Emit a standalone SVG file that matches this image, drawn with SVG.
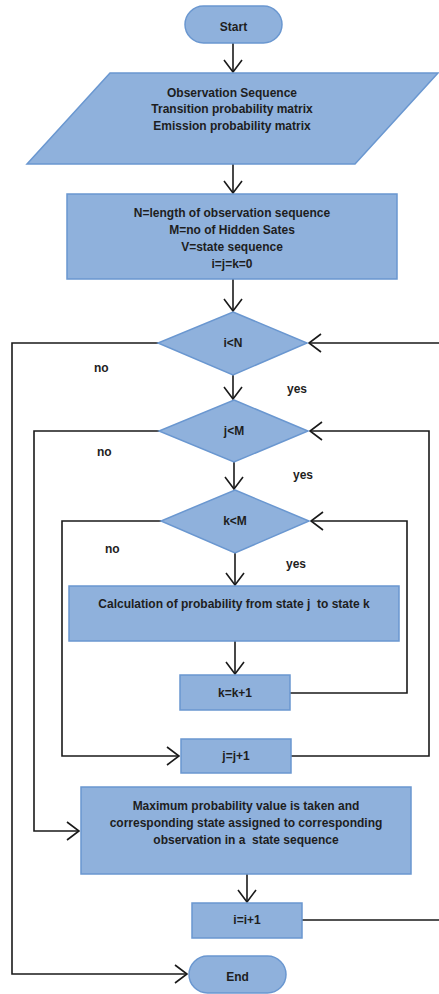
<svg xmlns="http://www.w3.org/2000/svg" width="439" height="994" viewBox="0 0 439 994">
  <defs>
    <style>
      .shape { fill: #8FB1DC; stroke: #6A97D0; stroke-width: 1.5; }
      .lbl { font-family: "Liberation Sans", Arial, sans-serif; font-weight: bold; font-size: 12px; fill: #1e1e1e; text-anchor: middle; dominant-baseline: central; }
      .side { font-family: "Liberation Sans", Arial, sans-serif; font-weight: bold; font-size: 12px; fill: #1e1e1e; dominant-baseline: central; }
      .wire { fill: none; stroke: #1a1a1a; stroke-width: 1.6; }
    </style>
    <marker id="arr" viewBox="0 0 14 20" refX="13" refY="10" markerWidth="14" markerHeight="20" markerUnits="userSpaceOnUse" orient="auto">
      <path d="M1,1 L13,10 L1,19" fill="none" stroke="#1a1a1a" stroke-width="1.6"/>
    </marker>
  </defs>

  <!-- connectors -->
  <g id="connectors" class="wire">
    <path d="M233,43 V72" marker-end="url(#arr)"/>
    <path d="M233,164 V193" marker-end="url(#arr)"/>
    <path d="M233,279 V311" marker-end="url(#arr)"/>
    <path d="M233,375 V399" marker-end="url(#arr)"/>
    <path d="M234,462 V489" marker-end="url(#arr)"/>
    <path d="M235,553 V585" marker-end="url(#arr)"/>
    <path d="M235,641 V674" marker-end="url(#arr)"/>
    <path d="M247,874 V902" marker-end="url(#arr)"/>
    <!-- i<N no: to End -->
    <path d="M158,343 H12 V974 H187" marker-end="url(#arr)"/>
    <!-- j<M no: to Max box -->
    <path d="M159,431 H34 V831 H79" marker-end="url(#arr)"/>
    <!-- k<M no: to j=j+1 -->
    <path d="M161,521 H62 V756 H179" marker-end="url(#arr)"/>
    <!-- k=k+1 back to k<M -->
    <path d="M290,693 H407 V521 H311" marker-end="url(#arr)"/>
    <!-- j=j+1 back to j<M -->
    <path d="M291,756 H429 V431 H310" marker-end="url(#arr)"/>
    <!-- i=i+1 back to i<N -->
    <path d="M302,920 H441 V343 H309" marker-end="url(#arr)"/>
  </g>

  <g id="start">
    <rect class="shape" x="185" y="6" width="97" height="37" rx="18.5"/>
    <text class="lbl" x="233.5" y="27">Start</text>
  </g>

  <g id="inputs">
    <polygon class="shape" points="110,73 438,73 355,164 27,164"/>
    <text class="lbl" x="232" y="93">Observation Sequence</text>
    <text class="lbl" x="232" y="109">Transition probability matrix</text>
    <text class="lbl" x="232" y="126">Emission probability matrix</text>
  </g>

  <g id="init">
    <rect class="shape" x="67" y="194" width="330" height="85"/>
    <text class="lbl" x="232" y="213">N=length of observation sequence</text>
    <text class="lbl" x="232" y="230">M=no of Hidden Sates</text>
    <text class="lbl" x="232" y="247">V=state sequence</text>
    <text class="lbl" x="232" y="264">i=j=k=0</text>
  </g>

  <g id="cond-i">
    <polygon class="shape" points="233,312 307,343 233,375 158,343"/>
    <text class="lbl" x="233" y="343">i&lt;N</text>
  </g>
  <text class="side" x="94" y="368">no</text>
  <text class="side" x="287" y="389">yes</text>

  <g id="cond-j">
    <polygon class="shape" points="234,400 308,431 234,462 159,431"/>
    <text class="lbl" x="234" y="431">j&lt;M</text>
  </g>
  <text class="side" x="97" y="452">no</text>
  <text class="side" x="293" y="475">yes</text>

  <g id="cond-k">
    <polygon class="shape" points="235,490 309,521 235,553 161,521"/>
    <text class="lbl" x="235" y="521">k&lt;M</text>
  </g>
  <text class="side" x="105" y="549">no</text>
  <text class="side" x="286" y="564">yes</text>

  <g id="calc">
    <rect class="shape" x="69" y="586" width="330" height="55"/>
    <text class="lbl" x="234" y="604" xml:space="preserve">Calculation of probability from state j  to state k</text>
  </g>

  <g id="inc-k">
    <rect class="shape" x="180" y="675" width="110" height="35"/>
    <text class="lbl" x="235" y="693">k=k+1</text>
  </g>

  <g id="inc-j">
    <rect class="shape" x="181" y="739" width="110" height="34"/>
    <text class="lbl" x="236" y="756">j=j+1</text>
  </g>

  <g id="maxprob">
    <rect class="shape" x="81" y="787" width="330" height="87"/>
    <text class="lbl" x="246" y="806">Maximum probability value is taken and</text>
    <text class="lbl" x="246" y="823">corresponding state assigned to corresponding</text>
    <text class="lbl" x="246" y="840" xml:space="preserve">observation in a  state sequence</text>
  </g>

  <g id="inc-i">
    <rect class="shape" x="192" y="903" width="110" height="35"/>
    <text class="lbl" x="247" y="920">i=i+1</text>
  </g>

  <g id="end">
    <rect class="shape" x="189" y="956" width="97" height="37" rx="18.5"/>
    <text class="lbl" x="237.5" y="977">End</text>
  </g>
</svg>
